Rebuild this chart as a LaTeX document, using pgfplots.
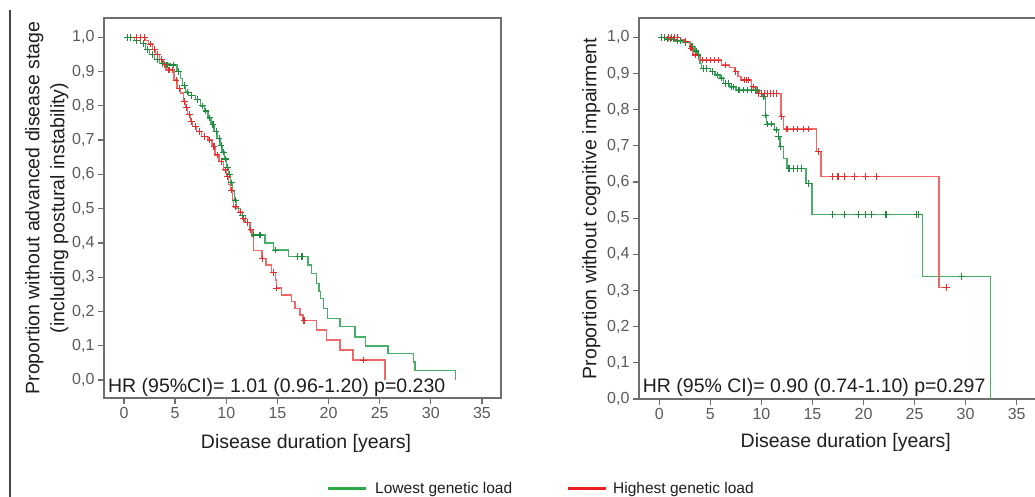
\documentclass[border=0pt]{standalone}
\usepackage{fontspec}
\setmainfont{Liberation Sans}
\usepackage{pgfplots}
\pgfplotsset{compat=1.18}
\definecolor{lgline}{RGB}{70,175,105}
\definecolor{lgmark}{RGB}{30,140,60}
\definecolor{lrline}{RGB}{240,105,105}
\definecolor{lrmark}{RGB}{230,45,45}
\definecolor{framec}{RGB}{110,110,110}
\definecolor{tickc}{RGB}{90,90,90}
\definecolor{labc}{RGB}{30,30,30}
\definecolor{leggreen}{RGB}{40,170,70}
\definecolor{legred}{RGB}{235,30,35}
\newcommand{\labfont}{\fontsize{19.5}{25}\selectfont}
\pgfplotsset{
 kmstyle/.style={
  scale only axis,
  axis line style={framec, line width=1.6pt},
  tick align=outside,
  major tick length=6pt,
  tick style={framec, line width=1.3pt},
  xtick pos=bottom, ytick pos=left,
  xtick={0,5,10,15,20,25,30,35},
  xticklabels={0,5,10,15,20,25,30,35},
  ytick={0,0.1,0.2,0.3,0.4,0.5,0.6,0.7,0.8,0.9,1.0},
  yticklabels={{0,0},{0,1},{0,2},{0,3},{0,4},{0,5},{0,6},{0,7},{0,8},{0,9},{1,0}},
  ticklabel style={font=\fontsize{16}{19}\selectfont, text=tickc},
  /pgf/number format/assume math mode=true,
 },
 grn/.style={const plot, lgline, line width=1.4pt, no marks},
 red/.style={const plot, lrline, line width=1.4pt, no marks},
 grnm/.style={only marks, mark=+, mark size=3.3pt, mark options={lgmark, line width=1.1pt}},
 redm/.style={only marks, mark=+, mark size=3.3pt, mark options={lrmark, line width=1.1pt}},
}
\begin{document}
\begin{tikzpicture}
\draw[color={rgb,255:red,70;green,70;blue,70}, line width=2pt] (10pt,0pt) -- (10pt,487pt);
% ---------------- left panel
\begin{axis}[kmstyle,
  at={(104pt,99pt)}, anchor=south west,
  width=397pt, height=380pt,
  xmin=-1.955, xmax=36.86, ymin=-0.0525, ymax=1.0563,
  xlabel={Disease duration [years]},
  every axis x label/.style={at={(axis description cs:0.509,-0.1316)}, anchor=base, font=\labfont, text=labc},
  ylabel={Proportion without advanced disease stage\\(including postural instability)},
  every axis y label/.style={at={(axis description cs:-0.0806,0.5)}, anchor=south, rotate=90, align=center, font=\labfont, text=labc},
]
\addplot[grn] coordinates {
(0,1.000) (1.0,0.991) (1.6,0.982) (2.1,0.965) (2.5,0.950) (3.0,0.935) (3.5,0.924) (4.5,0.919)
(5.2,0.900) (5.5,0.880) (5.7,0.860) (6.0,0.840) (6.3,0.830) (7.0,0.818) (7.5,0.800) (7.9,0.785)
(8.2,0.765) (8.5,0.745) (8.8,0.725) (9.1,0.705) (9.4,0.685) (9.6,0.665) (9.8,0.645) (10.0,0.620)
(10.2,0.600) (10.4,0.575) (10.6,0.550) (10.8,0.525) (11.0,0.500) (11.4,0.480) (11.9,0.460) (12.3,0.440)
(12.6,0.423) (13.8,0.400) (14.6,0.379) (16.1,0.360) (18.0,0.336) (18.35,0.311) (18.8,0.282) (19.06,0.258)
(19.2,0.238) (19.5,0.209) (19.9,0.180) (21.1,0.156) (22.6,0.126) (23.6,0.099) (25.8,0.078) (28.3,0.053)
(28.45,0.027) (32.4,0.000)};
\addplot[red] coordinates {
(0.9,1.000) (2.1,0.990) (2.4,0.980) (2.8,0.965) (3.1,0.950) (3.5,0.935) (3.8,0.920) (4.1,0.905)
(4.9,0.875) (5.2,0.851) (5.5,0.837) (5.8,0.812) (6.0,0.795) (6.2,0.775) (6.5,0.755) (6.7,0.740)
(7.1,0.725) (7.6,0.710) (8.2,0.700) (8.6,0.681) (8.9,0.657) (9.3,0.637) (9.7,0.613) (10.0,0.593)
(10.2,0.570) (10.4,0.554) (10.6,0.525) (10.7,0.505) (11.2,0.490) (11.6,0.470) (11.8,0.460) (12.3,0.438)
(12.5,0.418) (12.65,0.378) (13.5,0.355) (13.9,0.336) (14.4,0.313) (14.8,0.292) (14.9,0.268) (15.4,0.248)
(16.4,0.229) (16.7,0.209) (17.2,0.190) (17.5,0.173) (18.8,0.146) (19.8,0.117) (21.1,0.088) (22.4,0.058)
(25.5,0.000)};
\addplot[grnm] coordinates {
(0.3,1) (0.6,1) (1.2,0.991) (1.9,0.982) (2.3,0.965) (2.8,0.950) (3.3,0.935) (3.8,0.924) (4.2,0.919)
(4.8,0.919) (5.3,0.9) (5.9,0.86) (6.2,0.84) (6.6,0.83) (7.2,0.818) (7.7,0.8) (8.0,0.785) (8.4,0.765)
(8.7,0.745) (9.0,0.725) (9.3,0.705) (9.5,0.685) (9.7,0.665) (9.9,0.645) (10.1,0.62) (10.3,0.6)
(10.5,0.575) (10.9,0.525) (11.6,0.48) (12.1,0.46) (12.4,0.44) (12.7,0.423) (13.3,0.423) (14.8,0.379)
(17.0,0.36) (17.4,0.36)};
\addplot[redm] coordinates {
(1.2,1) (1.6,1) (2.0,1) (2.6,0.98) (3.0,0.965) (3.3,0.95) (3.7,0.935) (4.0,0.92) (4.4,0.905) (4.7,0.905)
(5.1,0.875) (5.4,0.851) (5.9,0.812) (6.1,0.795) (6.4,0.775) (6.6,0.755) (7.0,0.74) (7.4,0.725) (7.9,0.71)
(8.4,0.7) (8.8,0.681) (9.1,0.657) (9.5,0.637) (9.9,0.613) (10.1,0.593) (10.5,0.554) (10.9,0.505)
(11.4,0.49) (11.7,0.47) (12.1,0.46) (12.4,0.438) (13.5,0.355) (14.6,0.313) (14.9,0.268) (17.6,0.173)
(23.4,0.058)};
\node[anchor=base west, font=\labfont, text=labc, inner sep=0pt]
  at (axis description cs:0.01,0.014) {HR (95\%CI)= 1.01 (0.96-1.20) p=0.230};
\end{axis}
% ---------------- right panel
\begin{axis}[kmstyle,
  at={(639pt,98pt)}, anchor=south west,
  width=398pt, height=381pt,
  xmin=-1.99, xmax=36.99, ymin=0, ymax=1.0534,
  xlabel={Disease duration [years]},
  every axis x label/.style={at={(axis description cs:0.5196,-0.1286)}, anchor=base, font=\labfont, text=labc},
  ylabel={Proportion without cognitive impairment},
  every axis y label/.style={at={(axis description cs:-0.088,0.5)}, anchor=south, rotate=90, font=\labfont, text=labc},
]
\addplot[grn] coordinates {
(0,1.000) (0.6,0.995) (1.5,0.990) (2.3,0.985) (3.0,0.974) (3.5,0.962) (3.7,0.951) (3.9,0.940)
(4.0,0.928) (4.15,0.914) (5.0,0.905) (5.45,0.896) (5.95,0.887) (6.3,0.873) (6.9,0.863) (7.5,0.854)
(9.8,0.845) (10.1,0.836) (10.35,0.831) (10.4,0.785) (10.5,0.760) (11.3,0.744) (11.65,0.725) (11.8,0.698)
(12.15,0.665) (12.5,0.638) (14.35,0.596) (14.95,0.510) (25.8,0.339) (32.45,0.000)};
\addplot[red] coordinates {
(0.5,1.000) (2.1,0.993) (2.4,0.988) (3.0,0.970) (3.3,0.951) (4.0,0.937) (6.1,0.923) (6.9,0.917)
(7.4,0.905) (7.7,0.891) (8.0,0.882) (9.05,0.863) (9.5,0.845) (11.9,0.781) (12.15,0.746) (15.4,0.684)
(15.85,0.615) (27.4,0.309) (28.1,0.309)};
\addplot[grnm] coordinates {
(0.2,1) (0.5,1) (0.8,0.995) (1.1,0.995) (1.4,0.995) (1.8,0.99) (2.1,0.99) (2.6,0.985) (3.2,0.974)
(3.6,0.962) (3.8,0.951) (4.3,0.914) (4.6,0.914) (5.2,0.905) (5.7,0.896) (6.1,0.887) (6.5,0.873)
(6.8,0.873) (7.1,0.863) (7.3,0.863) (7.8,0.854) (8.2,0.854) (8.6,0.854) (9.0,0.854) (9.4,0.854)
(9.6,0.854) (10.0,0.845) (10.2,0.836) (10.4,0.785) (10.6,0.76) (11.0,0.76) (11.5,0.744) (11.7,0.725)
(11.9,0.698) (12.7,0.638) (13.1,0.638) (13.5,0.638) (13.9,0.638) (14.6,0.596) (17.0,0.51) (18.1,0.51)
(19.5,0.51) (20.2,0.51) (20.8,0.51) (22.2,0.51) (25.2,0.51) (25.4,0.51) (29.6,0.339)};
\addplot[redm] coordinates {
(0.9,1) (1.2,1) (1.5,1) (1.8,1) (2.6,0.988) (3.1,0.97) (3.5,0.951) (4.2,0.937) (4.6,0.937) (5.0,0.937)
(5.4,0.937) (5.8,0.937) (6.5,0.923) (7.5,0.905) (8.3,0.882) (8.5,0.882) (8.7,0.882) (9.2,0.863)
(9.7,0.845) (10.0,0.845) (10.3,0.845) (10.6,0.845) (10.9,0.845) (11.2,0.845) (11.5,0.845) (12.0,0.781)
(12.5,0.746) (13.1,0.746) (13.5,0.746) (14.1,0.746) (14.6,0.746) (15.6,0.684) (17.0,0.615) (17.5,0.615)
(18.1,0.615) (19.1,0.615) (20.2,0.615) (21.3,0.615) (28.1,0.309)};
\node[anchor=base west, font=\labfont, text=labc, inner sep=0pt]
  at (axis description cs:0.0093,0.0165) {HR (95\% CI)= 0.90 (0.74-1.10) p=0.297};
\end{axis}
% ---------------- legend
\draw[leggreen, line width=3pt] (328pt,8pt) -- (366pt,8pt);
\node[anchor=base west, inner sep=0pt, font=\fontsize{15.5}{18}\selectfont, text=labc] at (375pt,3.5pt) {Lowest genetic load};
\draw[legred, line width=3pt] (568pt,8pt) -- (606pt,8pt);
\node[anchor=base west, inner sep=0pt, font=\fontsize{15.5}{18}\selectfont, text=labc] at (613pt,3.5pt) {Highest genetic load};
\pgfresetboundingbox
\useasboundingbox (0pt,0pt) rectangle (1035pt,497pt);
\end{tikzpicture}
\end{document}
